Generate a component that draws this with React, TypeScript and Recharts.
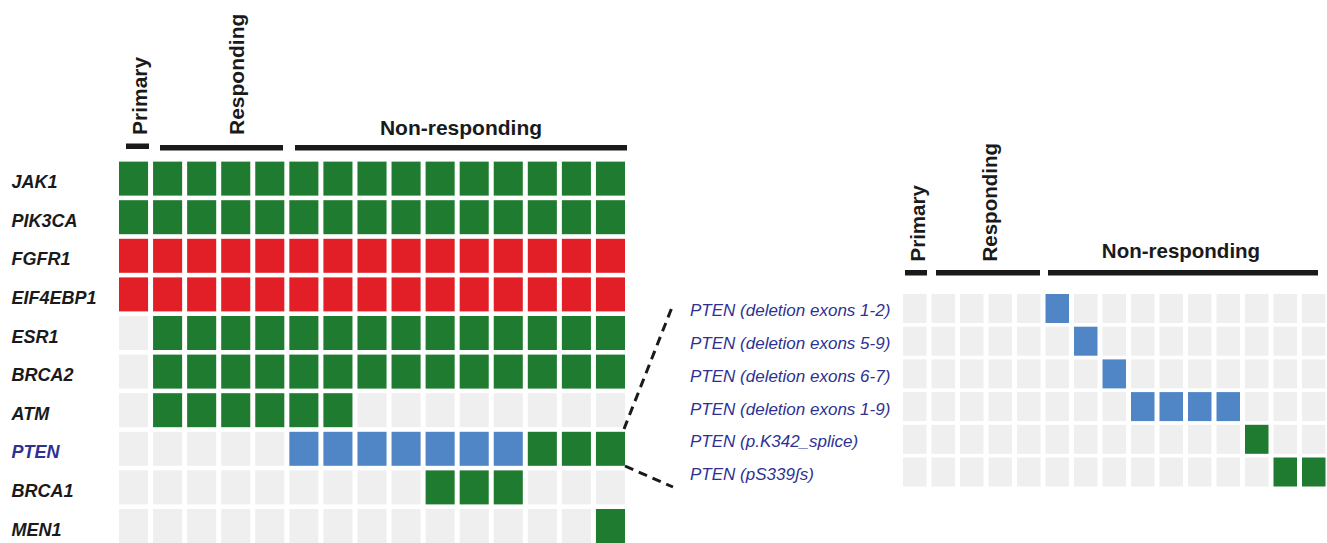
import React from 'react';
import { BarChart, Bar, XAxis, YAxis } from 'recharts';

const FONT = '"Liberation Sans", Arial, Helvetica, sans-serif';
const INK = '#1a1a1a';
const PTEN_BLUE = '#2e3192';

// 0 = no alteration, 1 = mutation, 2 = amplification, 3 = deletion
const STATUS_COLORS = ['#efefef', '#1e7b30', '#e21f26', '#5085c6'];

const sampleCount = 15;

const genes = ['JAK1', 'PIK3CA', 'FGFR1', 'EIF4EBP1', 'ESR1', 'BRCA2', 'ATM', 'PTEN', 'BRCA1', 'MEN1'];
const jak1 = [1, 1, 1, 1, 1, 1, 1, 1, 1, 1, 1, 1, 1, 1, 1];
const pik3ca = [1, 1, 1, 1, 1, 1, 1, 1, 1, 1, 1, 1, 1, 1, 1];
const fgfr1 = [2, 2, 2, 2, 2, 2, 2, 2, 2, 2, 2, 2, 2, 2, 2];
const eif4ebp1 = [2, 2, 2, 2, 2, 2, 2, 2, 2, 2, 2, 2, 2, 2, 2];
const esr1 = [0, 1, 1, 1, 1, 1, 1, 1, 1, 1, 1, 1, 1, 1, 1];
const brca2 = [0, 1, 1, 1, 1, 1, 1, 1, 1, 1, 1, 1, 1, 1, 1];
const atm = [0, 1, 1, 1, 1, 1, 1, 0, 0, 0, 0, 0, 0, 0, 0];
const pten = [0, 0, 0, 0, 0, 3, 3, 3, 3, 3, 3, 3, 1, 1, 1];
const brca1 = [0, 0, 0, 0, 0, 0, 0, 0, 0, 1, 1, 1, 0, 0, 0];
const men1 = [0, 0, 0, 0, 0, 0, 0, 0, 0, 0, 0, 0, 0, 0, 1];
const geneStatus = [jak1, pik3ca, fgfr1, eif4ebp1, esr1, brca2, atm, pten, brca1, men1];

const ptenVariants = [
  'PTEN (deletion exons 1-2)',
  'PTEN (deletion exons 5-9)',
  'PTEN (deletion exons 6-7)',
  'PTEN (deletion exons 1-9)',
  'PTEN (p.K342_splice)',
  'PTEN (pS339ʃs)',
];
const del12 = [0, 0, 0, 0, 0, 3, 0, 0, 0, 0, 0, 0, 0, 0, 0];
const del59 = [0, 0, 0, 0, 0, 0, 3, 0, 0, 0, 0, 0, 0, 0, 0];
const del67 = [0, 0, 0, 0, 0, 0, 0, 3, 0, 0, 0, 0, 0, 0, 0];
const del19 = [0, 0, 0, 0, 0, 0, 0, 0, 3, 3, 3, 3, 0, 0, 0];
const k342 = [0, 0, 0, 0, 0, 0, 0, 0, 0, 0, 0, 0, 1, 0, 0];
const s339 = [0, 0, 0, 0, 0, 0, 0, 0, 0, 0, 0, 0, 0, 1, 1];
const variantStatus = [del12, del59, del67, del19, k342, s339];

const sampleKeys = Array.from({ length: sampleCount }, (_, i) => `s${i}`);

const buildRows = (labels: string[], status: number[][]) =>
  labels.map((label, r) => {
    const row: Record<string, any> = { label, status: status[r] };
    sampleKeys.forEach((k) => (row[k] = 1));
    return row;
  });

const geneRows = buildRows(genes, geneStatus);
const variantRows = buildRows(ptenVariants, variantStatus);

// each stacked segment is one sample; inset it a little to leave a white gap
const cellShape = (col: number, gap: number) => (props: any) => {
  const { x, y, width, height, payload } = props;
  return (
    <rect
      x={x + gap / 2}
      y={y}
      width={Math.max(width - gap, 0)}
      height={height}
      fill={STATUS_COLORS[payload.status[col]]}
    />
  );
};

const GeneTick = (props: any) => {
  const { y, payload } = props;
  return (
    <text
      x={11.5}
      y={y}
      dy="0.52em"
      textAnchor="start"
      fontFamily={FONT}
      fontSize={18}
      fontWeight="bold"
      fontStyle="italic"
      fill={payload.value === 'PTEN' ? PTEN_BLUE : INK}
    >
      {payload.value}
    </text>
  );
};

const VariantTick = (props: any) => {
  const { y, payload } = props;
  return (
    <text
      x={10}
      y={y}
      dy="0.46em"
      textAnchor="start"
      fontFamily={FONT}
      fontSize={17}
      fontStyle="italic"
      fill={PTEN_BLUE}
    >
      {payload.value}
    </text>
  );
};

interface GridProps {
  rows: Record<string, any>[];
  width: number;
  height: number;
  margin: { top: number; right: number; bottom: number; left: number };
  axisWidth: number;
  gapX: number;
  gapY: number;
  tick: (props: any) => React.ReactElement;
}

const MutationGrid: React.FC<GridProps> = ({ rows, width, height, margin, axisWidth, gapX, gapY, tick }) => (
  <BarChart
    width={width}
    height={height}
    data={rows}
    layout="vertical"
    margin={margin}
    barCategoryGap={gapY / 2}
  >
    <XAxis type="number" domain={[0, sampleCount]} hide />
    <YAxis
      type="category"
      dataKey="label"
      width={axisWidth}
      axisLine={false}
      tickLine={false}
      interval={0}
      tick={tick}
    />
    {sampleKeys.map((k, c) => (
      <Bar key={k} dataKey={k} stackId="samples" isAnimationActive={false} shape={cellShape(c, gapX)} />
    ))}
  </BarChart>
);

const headerText = {
  fontFamily: FONT,
  fontWeight: 'bold' as const,
  fill: INK,
};

const App: React.FC = () => (
  <div style={{ position: 'absolute', left: 0, top: 0, width: 1327, height: 543, overflow: 'hidden', background: '#fff' }}>
    <div style={{ position: 'absolute', left: 0, top: 0 }}>
      <MutationGrid
        rows={geneRows}
        width={640}
        height={560}
        margin={{ top: 159.5, right: 12.5, bottom: 14.5, left: 0 }}
        axisWidth={116.5}
        gapX={5}
        gapY={4.2}
        tick={GeneTick}
      />
    </div>
    <div style={{ position: 'absolute', left: 680, top: 0 }}>
      <MutationGrid
        rows={variantRows}
        width={660}
        height={543}
        margin={{ top: 292.3, right: 12, bottom: 54.5, left: 0 }}
        axisWidth={220.5}
        gapX={5}
        gapY={3.4}
        tick={VariantTick}
      />
    </div>
    <svg width={1327} height={543} style={{ position: 'absolute', left: 0, top: 0, pointerEvents: 'none' }}>
      {/* left group headers */}
      <text transform="translate(146.5,135) rotate(-90)" fontSize={21} {...headerText}>Primary</text>
      <text transform="translate(244,135) rotate(-90)" fontSize={21} {...headerText}>Responding</text>
      <text x={461} y={134.5} textAnchor="middle" fontSize={21} {...headerText}>Non-responding</text>
      <rect x={126} y={143.5} width={23} height={5.5} fill={INK} />
      <rect x={160} y={145} width={123} height={5.5} fill={INK} />
      <rect x={295} y={145} width={332} height={5.5} fill={INK} />

      {/* right group headers */}
      <text transform="translate(925,261.5) rotate(-90)" fontSize={20.5} {...headerText}>Primary</text>
      <text transform="translate(996.5,261.5) rotate(-90)" fontSize={20.5} {...headerText}>Responding</text>
      <text x={1181} y={258} textAnchor="middle" fontSize={20.5} {...headerText}>Non-responding</text>
      <rect x={905} y={270} width={22} height={5.5} fill={INK} />
      <rect x={936} y={270} width={104} height={5.5} fill={INK} />
      <rect x={1048} y={270} width={270} height={5.5} fill={INK} />

      {/* PTEN breakout connector */}
      <line x1={624} y1={429} x2={672.5} y2={306} stroke={INK} strokeWidth={3} strokeDasharray="9 6" />
      <line x1={625} y1={466} x2={673} y2={487} stroke={INK} strokeWidth={3} strokeDasharray="9 6" />
    </svg>
  </div>
);

export default App;
